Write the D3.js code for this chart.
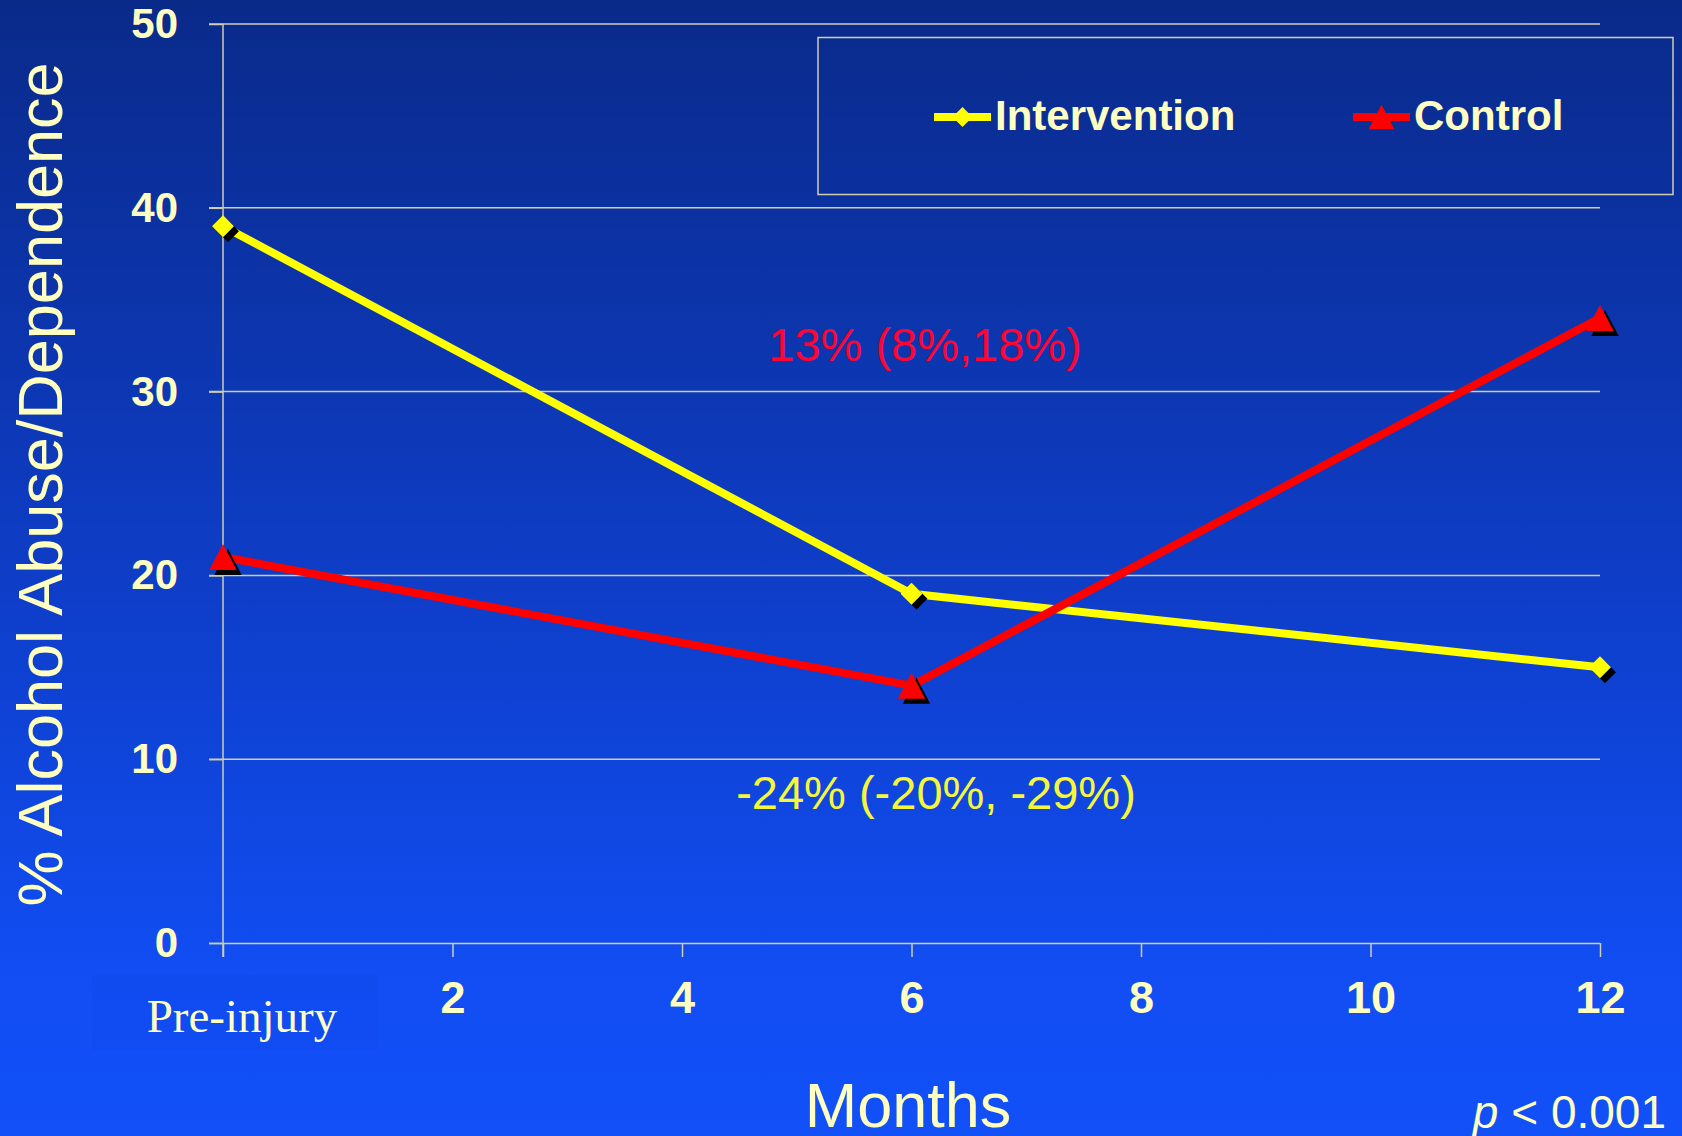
<!DOCTYPE html>
<html>
<head>
<meta charset="utf-8">
<script src="https://cdn.jsdelivr.net/npm/d3@7"></script>
<style>
  html, body { margin: 0; padding: 0; background: #0a2a8a; }
  svg { display: block; }
</style>
</head>
<body>
<svg id="chart" width="1682" height="1136"></svg>
<script>
// Share of patients with alcohol abuse/dependence over follow-up
const months = [0, 6, 12];
const intervention = [39, 19, 15];
const control = [21, 14, 34];
const seriesNames = ["Intervention", "Control"];
const xTicks = [0, 2, 4, 6, 8, 10, 12];
const yTicks = [0, 10, 20, 30, 40, 50];
const baselineLabel = "Pre-injury";
const controlChange = "13% (8%,18%)";
const interventionChange = "-24% (-20%, -29%)";

const W = 1682, H = 1136;
const cream = "#ffffc2";
const gridColor = "#cfcdb2";
const yellow = "#ffff00";
const red = "#ff0000";

const svg = d3.select("#chart");

// background gradient, dark navy at the top to bright blue at the bottom
const defs = svg.append("defs");
const grad = defs.append("linearGradient")
  .attr("id", "bg").attr("x1", 0).attr("y1", 0).attr("x2", 0).attr("y2", 1);
grad.append("stop").attr("offset", "0%").attr("stop-color", "#0a2a8a");
grad.append("stop").attr("offset", "50%").attr("stop-color", "#0e3dc6");
grad.append("stop").attr("offset", "85%").attr("stop-color", "#114df2");
grad.append("stop").attr("offset", "100%").attr("stop-color", "#1250f8");
svg.append("rect").attr("width", W).attr("height", H).attr("fill", "url(#bg)");

const x = d3.scaleLinear().domain([0, 12]).range([223, 1600]);
const y = d3.scaleLinear().domain([0, 50]).range([943, 24]);

// horizontal gridlines, reaching slightly left of the value axis
svg.append("g").selectAll("line").data(yTicks.slice(1)).join("line")
  .attr("x1", x(0) - 14).attr("x2", x(12))
  .attr("y1", d => y(d)).attr("y2", d => y(d))
  .attr("stroke", gridColor).attr("stroke-width", 1.5);

// value axis
const yAxis = svg.append("g").attr("transform", `translate(${x(0)},0)`)
  .call(d3.axisLeft(y).tickValues(yTicks).tickSize(14).tickPadding(31).tickSizeOuter(0));
yAxis.select(".domain").remove();
yAxis.selectAll(".tick line").attr("stroke", gridColor).attr("stroke-width", 1.5);
yAxis.selectAll(".tick text")
  .attr("fill", cream).attr("font-family", "Liberation Sans, Arial, sans-serif")
  .attr("font-weight", "bold").attr("font-size", 42);
// vertical axis line running down past the baseline
svg.append("line")
  .attr("x1", x(0)).attr("x2", x(0)).attr("y1", y(50)).attr("y2", y(0) + 14)
  .attr("stroke", gridColor).attr("stroke-width", 1.5);

// month axis
const xAxis = svg.append("g").attr("transform", `translate(0,${y(0)})`)
  .call(d3.axisBottom(x).tickValues(xTicks).tickSize(14).tickPadding(24)
    .tickSizeOuter(0).tickFormat(d => d === 0 ? "" : d));
xAxis.select(".domain").attr("d", `M${x(0) - 14},0.5H${x(12)}`)
  .attr("stroke", gridColor).attr("stroke-width", 1.5);
xAxis.selectAll(".tick line").attr("stroke", gridColor).attr("stroke-width", 1.5);
xAxis.selectAll(".tick text")
  .attr("fill", cream).attr("font-family", "Liberation Sans, Arial, sans-serif")
  .attr("font-weight", "bold").attr("font-size", 45);

// baseline label in its own faint text box
svg.append("rect").attr("x", 92).attr("y", 975).attr("width", 286).attr("height", 75)
  .attr("fill", "#0a3ad8").attr("fill-opacity", 0.08);
svg.append("text").attr("x", 242).attr("y", 1032).attr("text-anchor", "middle")
  .attr("font-family", "Liberation Serif, Times New Roman, serif").attr("font-size", 47)
  .attr("fill", cream).text(baselineLabel);

// axis titles
svg.append("text")
  .attr("transform", `translate(62,${(y(0) + y(50)) / 2 + 1}) rotate(-90)`)
  .attr("text-anchor", "middle")
  .attr("font-family", "Liberation Sans, Arial, sans-serif").attr("font-size", 63)
  .attr("fill", cream).text("% Alcohol Abuse/Dependence");
svg.append("text").attr("x", 908).attr("y", 1127).attr("text-anchor", "middle")
  .attr("font-family", "Liberation Sans, Arial, sans-serif").attr("font-size", 63)
  .attr("fill", cream).text("Months");

// p-value note
const pText = svg.append("text").attr("x", 1666).attr("y", 1128).attr("text-anchor", "end")
  .attr("font-family", "Liberation Sans, Arial, sans-serif").attr("font-size", 46)
  .attr("fill", cream);
pText.append("tspan").attr("font-style", "italic").text("p");
pText.append("tspan").text(" < 0.001");

// marker shapes
const diamond = d3.symbol().type(d3.symbolSquare).size(240);
const triangleType = {
  draw(ctx, size) {
    const h = Math.sqrt(size) / 2;
    ctx.moveTo(0, -h);
    ctx.lineTo(h * 1.05, h);
    ctx.lineTo(-h * 1.05, h);
    ctx.closePath();
  }
};
const triangle = d3.symbol().type(triangleType).size(680);

const line = d3.line().x(d => x(d[0])).y(d => y(d[1]));

function drawSeries(values, color, markerPath, rotate) {
  const pts = months.map((m, i) => [m, values[i]]);
  const g = svg.append("g");
  g.append("path").datum(pts).attr("d", line)
    .attr("fill", "none").attr("stroke", color).attr("stroke-width", 8)
    .attr("stroke-linejoin", "round");
  // drop shadows, then the markers
  g.selectAll(".shadow").data(pts).join("path").attr("class", "shadow")
    .attr("d", markerPath)
    .attr("transform", d => `translate(${x(d[0]) + 5},${y(d[1]) + 5}) rotate(${rotate})`)
    .attr("fill", "#000");
  g.selectAll(".mark").data(pts).join("path").attr("class", "mark")
    .attr("d", markerPath)
    .attr("transform", d => `translate(${x(d[0])},${y(d[1])}) rotate(${rotate})`)
    .attr("fill", color);
}
drawSeries(intervention, yellow, diamond(), 45);
drawSeries(control, red, triangle(), 0);

// change annotations
svg.append("text").attr("x", 925).attr("y", 361).attr("text-anchor", "middle")
  .attr("font-family", "Liberation Sans, Arial, sans-serif").attr("font-size", 47)
  .attr("fill", "#ff0533").text(controlChange);
svg.append("text").attr("x", 936).attr("y", 809).attr("text-anchor", "middle")
  .attr("font-family", "Liberation Sans, Arial, sans-serif").attr("font-size", 47)
  .attr("fill", "#f7f73a").text(interventionChange);

// legend
const legend = svg.append("g");
legend.append("rect").attr("x", 818).attr("y", 37.5).attr("width", 855).attr("height", 157)
  .attr("fill", "none").attr("stroke", gridColor).attr("stroke-width", 1.5);
const legendItems = [
  { name: seriesNames[0], color: yellow, path: d3.symbol().type(d3.symbolSquare).size(200)(), rot: 45, x0: 934 },
  { name: seriesNames[1], color: red, path: d3.symbol().type(triangleType).size(600)(), rot: 0, x0: 1353 }
];
const li = legend.selectAll(".item").data(legendItems).join("g")
  .attr("transform", d => `translate(${d.x0},117)`);
li.append("line").attr("x1", 0).attr("x2", 57).attr("y1", 0).attr("y2", 0)
  .attr("stroke", d => d.color).attr("stroke-width", 8);
li.append("path").attr("d", d => d.path)
  .attr("transform", d => `translate(28.5,0) rotate(${d.rot})`).attr("fill", d => d.color);
li.append("text").attr("x", 61).attr("y", 13)
  .attr("font-family", "Liberation Sans, Arial, sans-serif").attr("font-weight", "bold")
  .attr("font-size", 42).attr("fill", cream).text(d => d.name);
</script>
</body>
</html>
